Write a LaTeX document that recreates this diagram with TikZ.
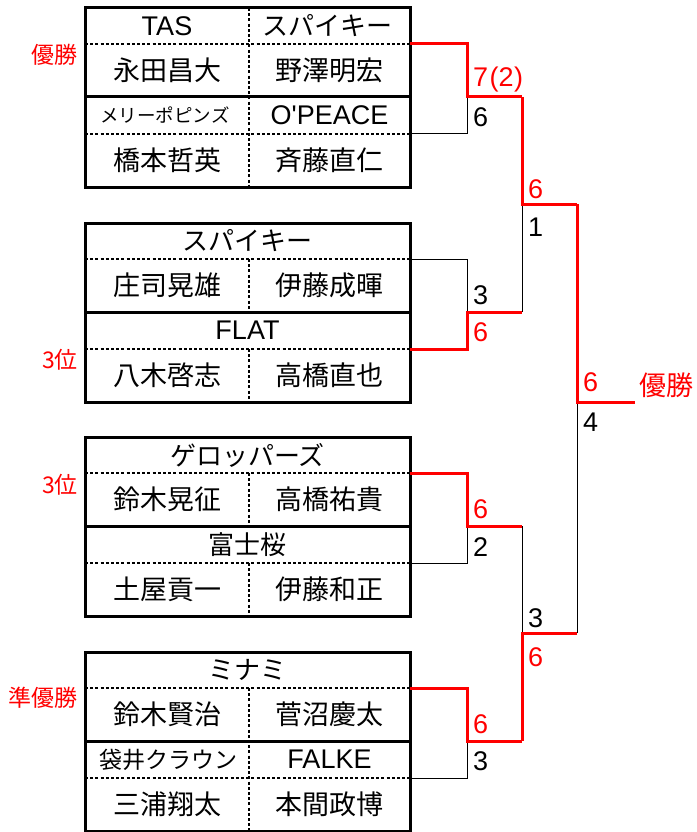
\documentclass[tikz,border=0pt]{standalone}
\usepackage{fontspec}
\setmainfont{Liberation Sans}[Ligatures=TeXOff]
\newfontfamily\jp{Noto Sans CJK JP}
\definecolor{winred}{RGB}{255,0,0}
\tikzset{
  boxline/.style={line width=3pt, black},
  dashline/.style={line width=1.2pt, black, dash pattern=on 3pt off 2.2pt},
  thinline/.style={line width=1pt, black},
  redline/.style={line width=3pt, winred},
  jpname/.style={inner sep=0pt, font=\jp\fontsize{27}{27}\selectfont},
  jphead/.style={inner sep=0pt, font=\jp\fontsize{26}{26}\selectfont},
  latname/.style={inner sep=0pt, font=\fontsize{27}{27}\selectfont},
  smalljp/.style={inner sep=0pt, font=\jp\fontsize{18.5}{18.5}\selectfont},
  midjp/.style={inner sep=0pt, font=\jp\fontsize{23}{23}\selectfont},
  scoreblk/.style={inner sep=0pt, anchor=west, font=\fontsize{27}{27}\selectfont, text=black},
  scorered/.style={inner sep=0pt, anchor=west, font=\fontsize{27}{27}\selectfont, text=winred},
  ranklbl/.style={inner sep=0pt, anchor=east, text=winred, font=\jp\fontsize{23}{23}\selectfont},
}
\begin{document}
\begin{tikzpicture}[x=1pt,y=-1pt]
\useasboundingbox (0,0) rectangle (696,832);
% ---------- box frames ----------
\foreach \T in {8,223,437,652}{
  \draw[dashline] (85,\T+36) -- (410,\T+36);
  \draw[dashline] (85,\T+126) -- (410,\T+126);
}
\draw[dashline] (249,8) -- (249,187);
\draw[dashline] (249,259) -- (249,312);
\draw[dashline] (249,349) -- (249,402);
\draw[dashline] (249,473) -- (249,526);
\draw[dashline] (249,563) -- (249,616);
\draw[dashline] (249,688) -- (249,831);
\foreach \T in {8,223,437,652}{
  \draw[boxline] (85,\T) rectangle (410,\T+179);
  \draw[boxline] (85,\T+89) -- (410,\T+89);
}
% ---------- box 1 ----------
\node[latname] (b1h1l) at (167,26) {TAS};
\node[jphead]  (b1h1r) at (327,26) {スパイキー};
\node[jpname]  (b1n1l) at (167,70.5) {永田昌大};
\node[jpname]  (b1n1r) at (329.5,70.5) {野澤明宏};
\node[smalljp] (b1h2l) at (165,115.5) {メリーポピンズ};
\node[latname] (b1h2r) at (329.5,115.5) {O'PEACE};
\node[jpname]  (b1n2l) at (167,160.5) {橋本哲英};
\node[jpname]  (b1n2r) at (329.5,160.5) {斉藤直仁};
% ---------- box 2 ----------
\node[jphead]  (b2h1) at (247.5,241) {スパイキー};
\node[jpname]  (b2n1l) at (167,285.5) {庄司晃雄};
\node[jpname]  (b2n1r) at (329.5,285.5) {伊藤成暉};
\node[latname] (b2h2) at (247.5,330.5) {FLAT};
\node[jpname]  (b2n2l) at (167,375.5) {八木啓志};
\node[jpname]  (b2n2r) at (329.5,375.5) {高橋直也};
% ---------- box 3 ----------
\node[jphead]  (b3h1) at (247.5,455) {ゲロッパーズ};
\node[jpname]  (b3n1l) at (167,499.5) {鈴木晃征};
\node[jpname]  (b3n1r) at (329.5,499.5) {高橋祐貴};
\node[jphead]  (b3h2) at (247.5,544.5) {富士桜};
\node[jpname]  (b3n2l) at (167,589.5) {土屋貢一};
\node[jpname]  (b3n2r) at (329.5,589.5) {伊藤和正};
% ---------- box 4 ----------
\node[jphead]  (b4h1) at (247.5,670) {ミナミ};
\node[jpname]  (b4n1l) at (167,714.5) {鈴木賢治};
\node[jpname]  (b4n1r) at (329.5,714.5) {菅沼慶太};
\node[midjp]   (b4h2l) at (168,759.5) {袋井クラウン};
\node[latname] (b4h2r) at (329.5,759.5) {FALKE};
\node[jpname]  (b4n2l) at (167,804.5) {三浦翔太};
\node[jpname]  (b4n2r) at (329.5,804.5) {本間政博};
% ---------- rank labels ----------
\node[ranklbl] (r1) at (78,55) {優勝};
\node[ranklbl] (r2) at (78,360) {3位};
\node[ranklbl] (r3) at (78,485) {3位};
\node[ranklbl] (r4) at (78,698) {準優勝};
\node[inner sep=0pt, anchor=west, text=winred, font=\jp\fontsize{27}{27}\selectfont] (champ) at (639,385) {優勝};
% ---------- bracket coordinates ----------
\coordinate (a1) at (410,44);  \coordinate (a2) at (467,44);
\coordinate (a3) at (410,134); \coordinate (a4) at (467,134);
\coordinate (j1) at (467,97);  \coordinate (k1) at (522,97);
\coordinate (c1) at (410,259); \coordinate (c2) at (467,259);
\coordinate (c3) at (410,349); \coordinate (c4) at (467,349);
\coordinate (j2) at (467,312); \coordinate (k2) at (522,312);
\coordinate (e1) at (410,473); \coordinate (e2) at (467,473);
\coordinate (e3) at (410,563); \coordinate (e4) at (467,563);
\coordinate (j3) at (467,526); \coordinate (k3) at (522,526);
\coordinate (g1) at (410,688); \coordinate (g2) at (467,688);
\coordinate (g3) at (410,778); \coordinate (g4) at (467,778);
\coordinate (j4) at (467,741); \coordinate (k4) at (522,741);
\coordinate (s1) at (522,204); \coordinate (t1) at (577,204);
\coordinate (s2) at (522,633); \coordinate (t2) at (577,633);
\coordinate (fj) at (577,402); \coordinate (fe) at (635,402);
% ---------- black (losing) lines ----------
\draw[thinline] (a3) -- (a4) -- (j1);
\draw[thinline] (c1) -- (c2) -- (j2);
\draw[thinline] (e3) -- (e4) -- (j3);
\draw[thinline] (g3) -- (g4) -- (j4);
\draw[thinline] (k2) -- (s1);
\draw[thinline] (k3) -- (s2);
\draw[thinline] (t2) -- (fj);
% ---------- red (winning) lines ----------
\draw[redline] (a1) -- (a2) -- (j1) -- (k1);
\draw[redline] (c3) -- (c4) -- (j2) -- (k2);
\draw[redline] (e1) -- (e2) -- (j3) -- (k3);
\draw[redline] (g1) -- (g2) -- (j4) -- (k4);
\draw[redline] (k1) -- (s1) -- (t1);
\draw[redline] (k4) -- (s2) -- (t2);
\draw[redline] (t1) -- (fj) -- (fe);
% ---------- scores ----------
\node[scorered] (sc1a) at (473,80) {7\kern1.5pt(2\kern0.5pt)};
\node[scoreblk] (sc1b) at (473,117) {6};
\node[scoreblk] (sc2a) at (473,295) {3};
\node[scorered] (sc2b) at (473,332) {6};
\node[scorered] (sc3a) at (473,509) {6};
\node[scoreblk] (sc3b) at (473,547) {2};
\node[scorered] (sc4a) at (473,724) {6};
\node[scoreblk] (sc4b) at (473,761) {3};
\node[scorered] (ss1a) at (528,189) {6};
\node[scoreblk] (ss1b) at (528,227) {1};
\node[scoreblk] (ss2a) at (528,618) {3};
\node[scorered] (ss2b) at (528,657) {6};
\node[scorered] (sfa) at (583,382) {6};
\node[scoreblk] (sfb) at (583,422) {4};
\end{tikzpicture}
\end{document}
